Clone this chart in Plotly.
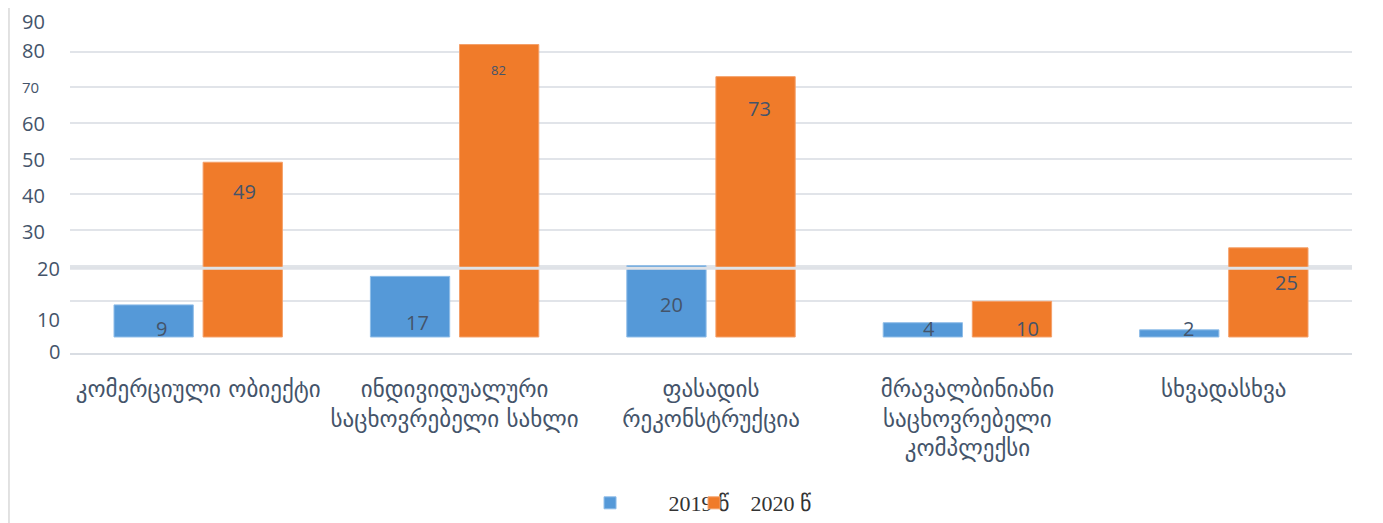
import plotly.graph_objects as go

# categories / values
categories = [
    "კომერციული ობიექტი",
    "ინდივიდუალური<br>საცხოვრებელი სახლი",
    "ფასადის<br>რეკონსტრუქცია",
    "მრავალბინიანი<br>საცხოვრებელი<br>კომპლექსი",
    "სხვადასხვა",
]
vals_2019 = [9, 17, 20, 4, 2]
vals_2020 = [49, 82, 73, 10, 25]
name_2019 = "2019 წ"
name_2020 = "2020 წ"

# y axis labels as they sit in the original (misaligned) chart
ytick_text = ["0", "10", "20", "30", "40", "50", "60", "70", "80", "90"]
ytick_pos = [-4.2, 4.8, 19.3, 29.7, 39.8, 49.9, 59.8, 70, 80.2, 88.4]

# where the data labels sit
lab_y_2019 = [2.5, 4.2, 9.25, 2.5, 2.5]
lab_dx_2019 = [-37, -37, -40, -38, -35]
lab_y_2020 = [40.7, 74.9, 64.2, 2.5, 15.4]
lab_dx_2020 = [46, 44, 48, 60, 63]

BLUE = "#5599d8"
ORANGE = "#f07b2a"
TXT = "#44546a"

fig = go.Figure()
fig.add_trace(go.Bar(x=categories, y=vals_2019, name="\u00a0" * 7 + name_2019,
                     legendwidth=59,
                     marker=dict(color=BLUE, line=dict(color="#8fbde8", width=1))))
fig.add_trace(go.Bar(x=categories, y=vals_2020, name="\u00a0" * 3 + name_2020,
                     legendwidth=110,
                     marker=dict(color=ORANGE, line=dict(color="#f4a06a", width=1))))

ann = []
for i, c in enumerate(categories):
    ann.append(dict(x=c, y=lab_y_2019[i], text=str(vals_2019[i]), xshift=lab_dx_2019[i],
                    showarrow=False, font=dict(family="Open Sans", size=20, color=TXT)))
    ann.append(dict(x=c, y=lab_y_2020[i], text=str(vals_2020[i]), xshift=lab_dx_2020[i],
                    showarrow=False,
                    font=dict(family="Open Sans", size=13 if vals_2020[i] == 82 else 20, color=TXT)))

for t, p in zip(ytick_text, ytick_pos):
    left = t not in ("0", "10", "20")
    ann.append(dict(xref="paper", x=0, y=p, text=t, showarrow=False,
                    xanchor="left" if left else "right", xshift=-50 if left else -8,
                    font=dict(family="Open Sans", size=15 if t == "70" else 20, color=TXT)))

shapes = [
    # the 20 gridline that is painted over the bars
    dict(type="line", xref="paper", x0=0, x1=1, yref="y", y0=19.3, y1=19.3,
         line=dict(color="#dfe2e7", width=3), layer="above"),
    # outer chart frame sides
    dict(type="line", xref="paper", x0=-0.0476, x1=-0.0476, yref="paper", y0=-1, y1=2,
         line=dict(color="#d9d9d9", width=1.5)),
    dict(type="line", xref="paper", x0=1.0211, x1=1.0211, yref="paper", y0=-1, y1=2,
         line=dict(color="#d9d9d9", width=1.5)),
]

fig.update_layout(
    width=1375, height=515,
    margin=dict(l=62, r=31, t=8, b=170, autoexpand=False),
    paper_bgcolor="white", plot_bgcolor="white",
    barmode="group", bargap=0.305, bargroupgap=0.11,
    annotations=ann, shapes=shapes,
    legend=dict(orientation="h", xref="container", x=0.4233, xanchor="left",
                yref="container", y=0.0388, yanchor="middle",
                font=dict(family="Liberation Serif", size=22, color="#333333")),
    xaxis=dict(tickfont=dict(family="DejaVu Sans", size=23, color=TXT),
               showline=True, linecolor="#d9dde3", linewidth=2,
               ticklabelstandoff=14, showgrid=False),
    yaxis=dict(range=[-4.49, 90], tickvals=[10, 20, 30, 40, 50, 60, 70, 80, 90],
               showticklabels=False, showgrid=True, gridcolor="#e1e4e9", gridwidth=2,
               zeroline=False, fixedrange=True),
)

fig.write_html("out.html")
